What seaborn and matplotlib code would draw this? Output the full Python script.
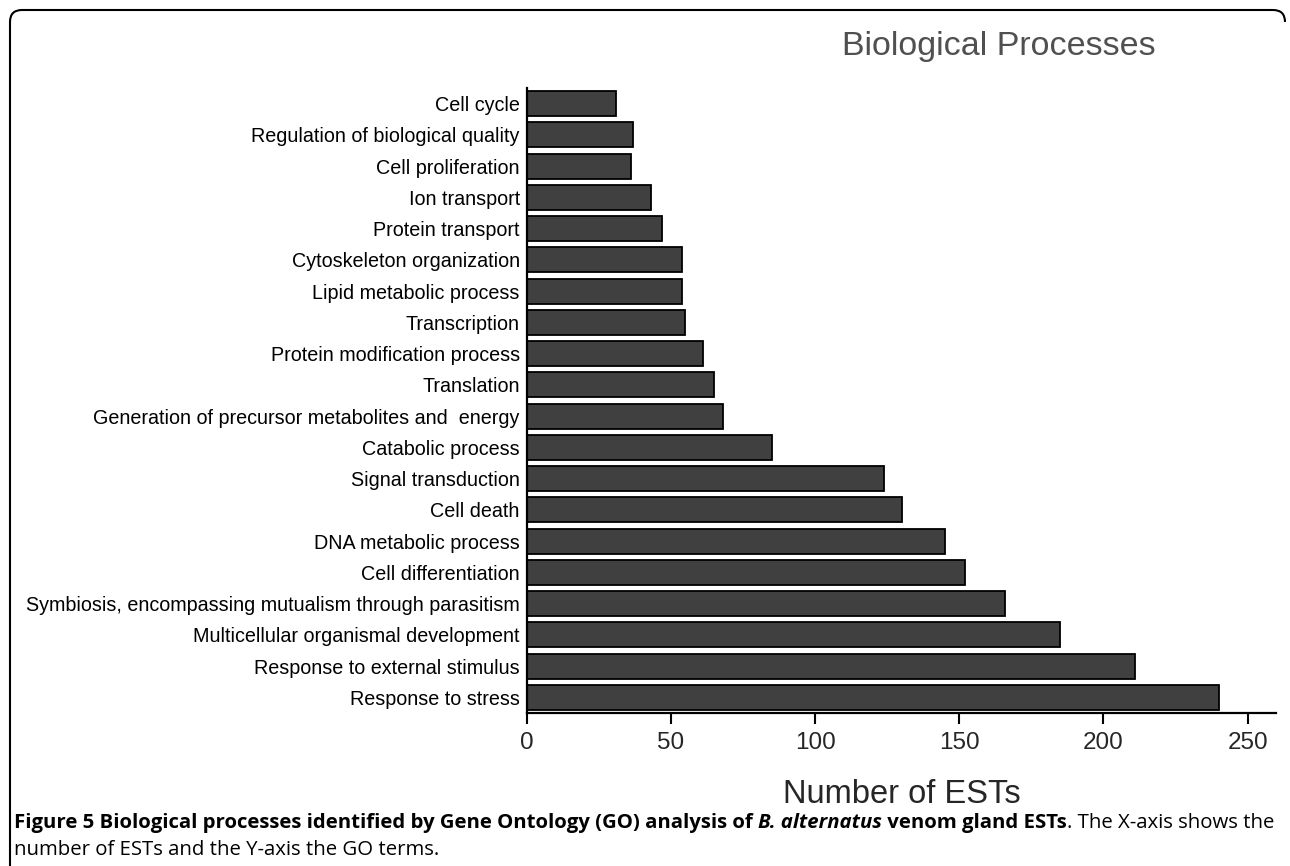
import matplotlib
matplotlib.use("Agg")
import matplotlib.pyplot as plt
import seaborn as sns
import pandas as pd
from matplotlib.path import Path
from matplotlib.patches import PathPatch

categories = [
    "Cell cycle",
    "Regulation of biological quality",
    "Cell proliferation",
    "Ion transport",
    "Protein transport",
    "Cytoskeleton organization",
    "Lipid metabolic process",
    "Transcription",
    "Protein modification process",
    "Translation",
    "Generation of precursor metabolites and  energy",
    "Catabolic process",
    "Signal transduction",
    "Cell death",
    "DNA metabolic process",
    "Cell differentiation",
    "Symbiosis, encompassing mutualism through parasitism",
    "Multicellular organismal development",
    "Response to external stimulus",
    "Response to stress",
]
values = [31, 37, 36, 43, 47, 54, 54, 55, 61, 65, 68, 85, 124, 130, 145, 152, 166, 185, 211, 240]
xticks = [0, 50, 100, 150, 200, 250]

df = pd.DataFrame({"term": categories, "ests": values})

sns.set_style("ticks")
plt.rcParams["font.family"] = ["Liberation Sans", "DejaVu Sans"]

W, H = 1290, 866
fig = plt.figure(figsize=(12.9, 8.66), dpi=100)
ax = fig.add_axes([0.4083, 0.1767, 0.5812, 0.7217])

sns.barplot(data=df, x="ests", y="term", orient="h", color="#404040",
            saturation=1, edgecolor="black", linewidth=1.3, width=0.8, ax=ax)

ax.set_xlim(0, 260)
ax.set_xticks(xticks)
ax.set_xticklabels([str(t) for t in xticks], fontsize=17.5)
ax.tick_params(axis="x", length=8, width=1.5, pad=6, color="black")
ax.tick_params(axis="y", length=0, pad=5, labelsize=14.2)
for lab in ax.get_yticklabels():
    lab.set_color("black")
ax.set_ylabel("")
ax.set_xlabel("Number of ESTs", fontsize=23.5, labelpad=18)
for s in ["top", "right"]:
    ax.spines[s].set_visible(False)
for s in ["left", "bottom"]:
    ax.spines[s].set_linewidth(1.6)
    ax.spines[s].set_color("black")

fig.text(999 / W, 1 - 46 / H, "Biological Processes", fontsize=24.5, color="#505050",
         ha="center", va="center")

# frame: left and top edges with rounded corners
def P(x, y):
    return (x / W, 1 - y / H)

verts = [P(10, 866), P(10, 22), P(10, 10), P(22, 10), P(1273, 10), P(1285, 10), P(1285, 22)]
codes = [Path.MOVETO, Path.LINETO, Path.CURVE3, Path.CURVE3, Path.LINETO, Path.CURVE3, Path.CURVE3]
fig.patches.append(PathPatch(Path(verts, codes), transform=fig.transFigure, fill=False,
                             edgecolor="black", linewidth=1.5))

# caption
cap_font = ["Open Sans", "DejaVu Sans"]
pieces1 = [
    ("Figure 5 Biological processes identified by Gene Ontology (GO) analysis of ", "bold", "normal"),
    ("B. alternatus", "bold", "italic"),
    (" venom gland ESTs", "bold", "normal"),
    (". The X-axis shows the", "normal", "normal"),
]
line2 = "number of ESTs and the Y-axis the GO terms."

fig.canvas.draw()
renderer = fig.canvas.get_renderer()
x0 = 14
target_w = 1278 - 14
size = 12.0

def draw_line(size):
    x = x0
    arts = []
    for txt, w, st in pieces1:
        t = fig.text(x / W, 1 - 823 / H, txt, fontsize=size, fontweight=w,
                     fontstyle=st, family=cap_font, va="center", ha="left",
                     color="black")
        bb = t.get_window_extent(renderer)
        x += bb.width
        arts.append(t)
    return x - x0, arts

w, arts = draw_line(size)
for a in arts:
    a.remove()
size = size * target_w / w
w, arts = draw_line(size)

fig.text(x0 / W, 1 - 850 / H, line2, fontsize=size, family=cap_font,
         va="center", ha="left", color="black")

fig.savefig("out.png", dpi=100, facecolor="white")
